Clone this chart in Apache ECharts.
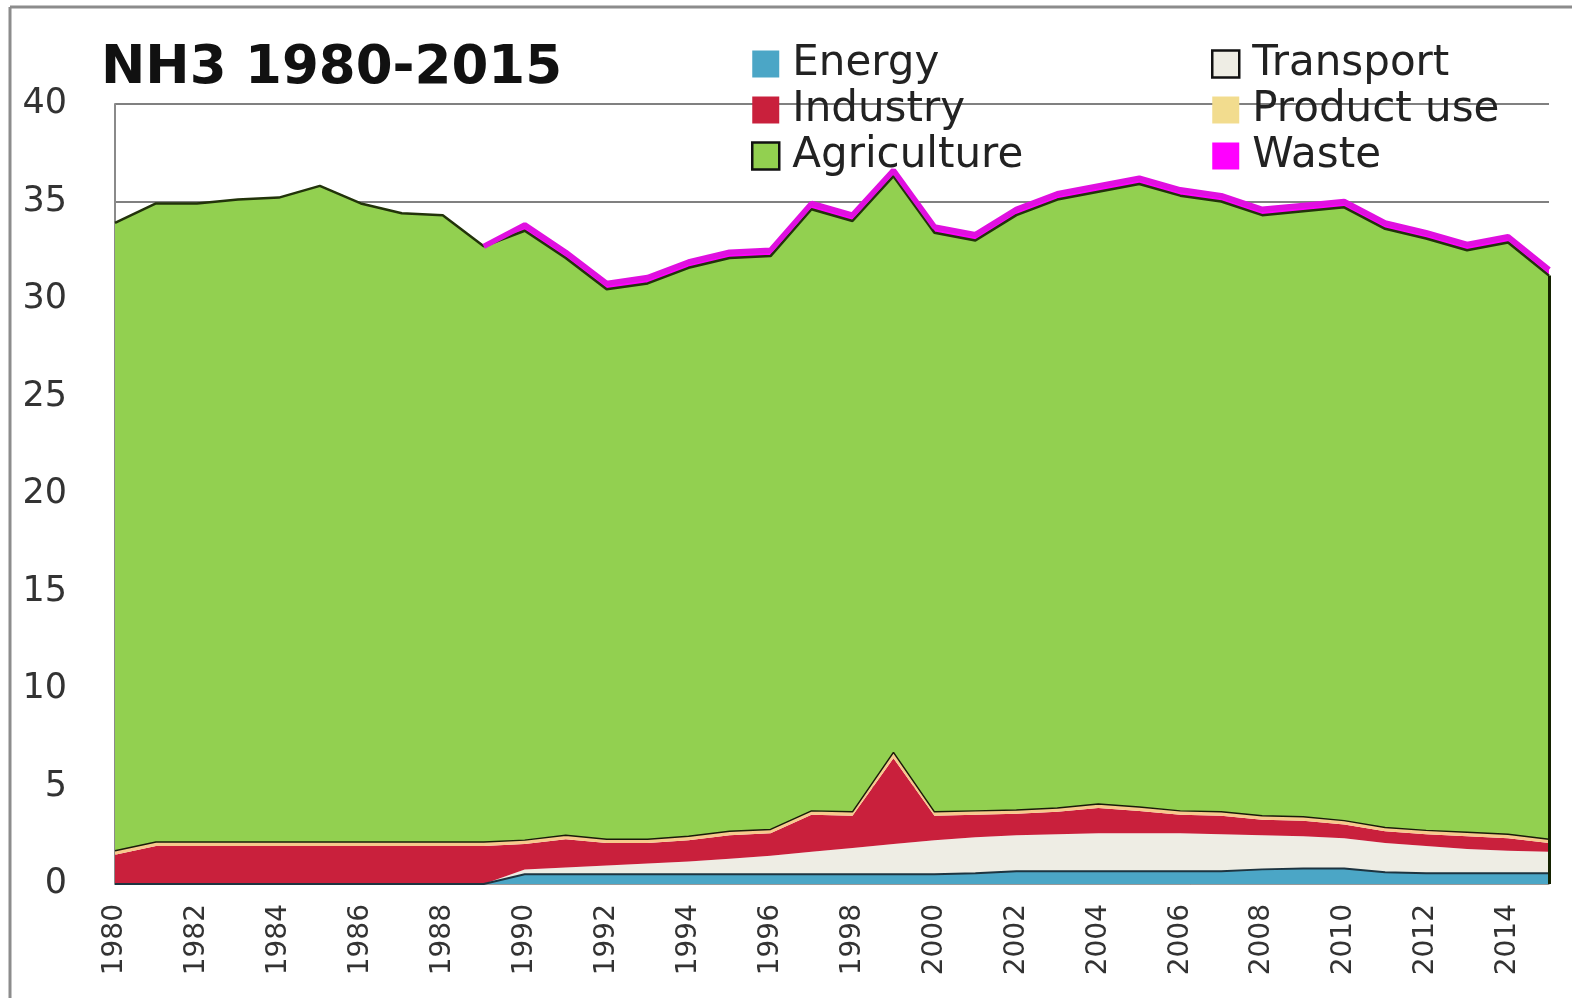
<!DOCTYPE html>
<html>
<head>
<meta charset="utf-8">
<title>NH3 1980-2015</title>
<script src="https://cdn.jsdelivr.net/npm/echarts@6/dist/echarts.min.js"></script>
<style>
  html, body { margin: 0; padding: 0; background: #fff; }
  #chart { width: 1572px; height: 998px; }
</style>
</head>
<body>
<div id="chart"></div>
<script>
// years on the x axis
const years = []
for (let y = 1980; y <= 2015; y++) years.push(String(y))

// emissions per sector, stacked bottom to top
const energy = [0, 0, 0, 0, 0, 0, 0, 0, 0, 0,
  0.5, 0.5, 0.5, 0.5, 0.5, 0.5, 0.5, 0.5, 0.5, 0.5,
  0.5, 0.55, 0.65, 0.65, 0.65, 0.65, 0.65, 0.65, 0.75, 0.8,
  0.8, 0.6, 0.55, 0.55, 0.55, 0.55]
const transport = [0, 0, 0, 0, 0, 0, 0, 0, 0, 0,
  0.25, 0.35, 0.45, 0.55, 0.65, 0.8, 0.95, 1.15, 1.35, 1.55,
  1.75, 1.85, 1.85, 1.9, 1.95, 1.95, 1.95, 1.9, 1.75, 1.65,
  1.55, 1.5, 1.4, 1.25, 1.15, 1.1]
const industry = [1.5, 1.95, 1.95, 1.95, 1.95, 1.95, 1.95, 1.95, 1.95, 1.95,
  1.3, 1.45, 1.15, 1.05, 1.1, 1.2, 1.15, 1.9, 1.65, 4.4,
  1.25, 1.15, 1.1, 1.15, 1.3, 1.15, 0.95, 0.95, 0.8, 0.8,
  0.7, 0.6, 0.6, 0.65, 0.65, 0.45]
const productUse = [0.2, 0.2, 0.2, 0.2, 0.2, 0.2, 0.2, 0.2, 0.2, 0.2,
  0.2, 0.2, 0.2, 0.2, 0.2, 0.2, 0.2, 0.2, 0.2, 0.3,
  0.2, 0.2, 0.2, 0.2, 0.2, 0.2, 0.2, 0.2, 0.2, 0.2,
  0.2, 0.2, 0.2, 0.2, 0.2, 0.2]
const agriculture = [32.2, 32.75, 32.75, 32.95, 33.05, 33.65, 32.75, 32.25, 32.15, 30.55,
  31.25, 29.6, 28.2, 28.5, 29.15, 29.4, 29.4, 30.85, 30.3, 29.55,
  29.7, 29.25, 30.5, 31.2, 31.4, 31.95, 31.55, 31.3, 30.8, 31.05,
  31.45, 30.7, 30.35, 29.85, 30.35, 28.9]
const waste = [null, null, null, null, null, null, null, null, null, 0,
  0.3, 0.3, 0.3, 0.3, 0.3, 0.3, 0.3, 0.3, 0.3, 0.3,
  0.3, 0.3, 0.3, 0.3, 0.3, 0.3, 0.3, 0.3, 0.3, 0.3,
  0.3, 0.3, 0.3, 0.3, 0.3, 0.3]

const yTicks = { min: 0, max: 40, interval: 5 }

const chart = echarts.init(document.getElementById('chart'))

// sum of the sectors up to and including agriculture in the last year
const last = years.length - 1
const topLast = energy[last] + transport[last] + industry[last] + productUse[last] + agriculture[last]

function area(name, data, fill, line) {
  return {
    name: name,
    type: 'line',
    stack: 'total',
    data: data,
    symbol: 'none',
    silent: true,
    itemStyle: { color: fill },
    lineStyle: line,
    areaStyle: { color: fill, opacity: 1 }
  }
}

const font = 'DejaVu Sans, Verdana, sans-serif'
const legendText = { fontFamily: font, fontSize: 42, color: '#222', lineHeight: 46, padding: [0, 0, 0, 8] }

chart.setOption({
  animation: false,
  backgroundColor: '#fff',
  title: {
    text: 'NH3 1980-2015',
    left: 96,
    top: 38,
    textStyle: { fontFamily: font, fontSize: 53, fontWeight: 'bold', color: '#111' }
  },
  legend: [
    {
      orient: 'vertical',
      left: 746,
      top: 36,
      icon: 'rect',
      itemWidth: 27,
      itemHeight: 27,
      itemGap: 0,
      textStyle: legendText,
      data: [
        { name: 'Energy' },
        { name: 'Industry' },
        { name: 'Agriculture', itemStyle: { borderColor: '#111', borderWidth: 2.5 } }
      ]
    },
    {
      orient: 'vertical',
      left: 1206,
      top: 36,
      icon: 'rect',
      itemWidth: 27,
      itemHeight: 27,
      itemGap: 0,
      textStyle: legendText,
      data: [
        { name: 'Transport', itemStyle: { borderColor: '#111', borderWidth: 2.5 } },
        { name: 'Product use', itemStyle: { color: '#f2dc8e' } },
        { name: 'Waste' }
      ]
    }
  ],
  grid: { left: 115, right: 23, top: 104, bottom: 114 },
  xAxis: {
    type: 'category',
    data: years,
    boundaryGap: false,
    axisLine: { show: true, lineStyle: { color: '#999', width: 1 } },
    axisTick: { show: false },
    axisLabel: {
      interval: 1,
      rotate: 90,
      margin: 20,
      fontFamily: font,
      fontSize: 28,
      color: '#333'
    },
    splitLine: { show: false }
  },
  yAxis: {
    type: 'value',
    min: yTicks.min,
    max: yTicks.max,
    interval: yTicks.interval,
    axisLine: { show: true, lineStyle: { color: '#8a8a8a', width: 2 } },
    axisTick: { show: false },
    axisLabel: { margin: 48, fontFamily: font, fontSize: 35, color: '#333' },
    splitLine: { show: true, lineStyle: { color: '#808080', width: 2 } }
  },
  series: [
    area('Energy', energy, '#4ba6c6', { color: '#1d3440', width: 2 }),
    area('Transport', transport, '#eeede4', { width: 0 }),
    area('Industry', industry, '#c9203c', { width: 0 }),
    area('Product use', productUse, '#f7c98c', { color: '#1a1a0a', width: 1.5 }),
    Object.assign(area('Agriculture', agriculture, '#92d050', { color: '#22330a', width: 2.5 }), {
      markLine: {
        silent: true,
        symbol: 'none',
        label: { show: false },
        lineStyle: { color: '#142200', width: 3, type: 'solid' },
        data: [[{ coord: [years[last], 0] }, { coord: [years[last], topLast] }]]
      }
    }),
    area('Waste', waste, '#ff00ff', { color: '#e010e0', width: 5.5 })
  ],
  graphic: [
    { type: 'line', shape: { x1: 10, y1: 7, x2: 1572, y2: 7 }, style: { stroke: '#8c8c8c', lineWidth: 3 } },
    { type: 'line', shape: { x1: 10, y1: 7, x2: 10, y2: 998 }, style: { stroke: '#8c8c8c', lineWidth: 3 } }
  ]
})
</script>
</body>
</html>
